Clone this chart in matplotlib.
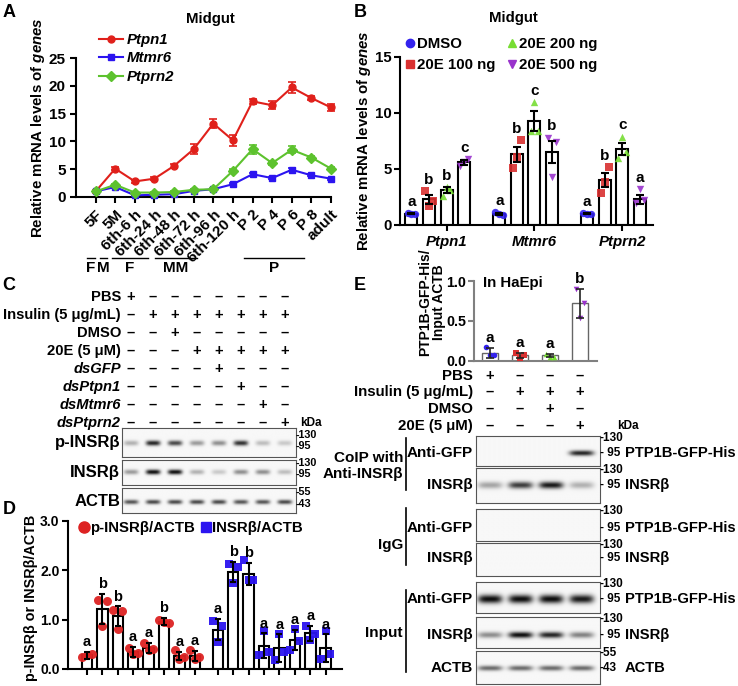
import numpy as np
import matplotlib
matplotlib.use('Agg')
import matplotlib.pyplot as plt
from matplotlib.transforms import blended_transform_factory as btf
from matplotlib.lines import Line2D

plt.rcParams['font.family'] = ['Liberation Sans', 'DejaVu Sans']
plt.rcParams['font.weight'] = 'bold'
plt.rcParams['mathtext.fontset'] = 'custom'
plt.rcParams['mathtext.rm'] = 'Liberation Sans:bold'
plt.rcParams['mathtext.it'] = 'Liberation Sans:italic:bold'
plt.rcParams['mathtext.bf'] = 'Liberation Sans:bold'
plt.rcParams['axes.linewidth'] = 1.5

# ---------------- data ----------------
# Panel A
stages_A = ["5F", "5M", "6th-6 h", "6th-24 h", "6th-48 h", "6th-72 h", "6th-96 h",
            "6th-120 h", "P 2", "P 4", "P 6", "P 8", "adult"]
ptpn1_mean = [1.0, 5.1, 2.8, 3.3, 5.6, 8.6, 13.2, 10.2, 17.2, 16.5, 19.7, 17.8, 16.1]
ptpn1_err = [0.2, 0.3, 0.3, 0.3, 0.3, 0.9, 0.8, 1.0, 0.5, 0.7, 1.0, 0.3, 0.7]
mtmr6_mean = [1.0, 1.8, 0.3, 0.4, 0.5, 1.1, 1.4, 2.3, 4.1, 3.4, 4.9, 3.9, 3.3]
mtmr6_err = [0.1, 0.2, 0.1, 0.1, 0.1, 0.1, 0.1, 0.2, 0.3, 0.2, 0.3, 0.2, 0.2]
ptprn2_mean = [1.0, 2.2, 0.8, 0.8, 0.9, 1.3, 1.4, 4.7, 8.6, 6.1, 8.5, 7.1, 5.1]
ptprn2_err = [0.1, 0.2, 0.1, 0.1, 0.1, 0.2, 0.2, 0.3, 0.8, 0.4, 0.6, 0.3, 0.3]
stage_groups = ["F", "M", "F", "MM", "P"]

# Panel B
genes_B = ["Ptpn1", "Mtmr6", "Ptprn2"]
treat_B = ["DMSO", "20E 100 ng", "20E 200 ng", "20E 500 ng"]
b_mean = [[1.0, 2.3, 3.1, 5.6],
          [1.0, 6.3, 9.3, 6.5],
          [1.0, 4.0, 6.8, 2.3]]
b_err = [[0.05, 0.4, 0.25, 0.2],
         [0.1, 0.7, 0.9, 1.0],
         [0.05, 0.65, 0.55, 0.4]]
b_pts = [[[1.05, 0.95, 1.0], [3.0, 2.1, 1.7], [2.6, 3.1, 3.4], [5.3, 5.9, 5.6]],
         [[1.15, 0.9, 1.0], [5.1, 7.6, 6.1], [8.4, 8.4, 11.0], [7.8, 7.4, 4.3]],
         [[1.05, 0.95, 1.0], [2.9, 5.2, 3.8], [6.0, 6.5, 7.9], [2.0, 2.2, 3.2]]]
b_letters = [["a", "b", "b", "c"], ["a", "b", "c", "b"], ["a", "b", "c", "a"]]

# Panel C
c_rows = ["PBS", "Insulin (5 μg/mL)", "DMSO", "20E (5 μM)", "dsGFP", "dsPtpn1",
          "dsMtmr6", "dsPtprn2"]
c_signs = ["+-------", "-+++++++", "--+-----", "---+++++", "----+---",
           "-----+--", "------+-", "-------+"]
c_blot_names = ["p-INSRβ", "INSRβ", "ACTB"]
c_pinsr = [0.30, 0.90, 0.75, 0.40, 0.45, 0.85, 0.25, 0.20]
c_insr = [0.40, 1.00, 1.00, 0.30, 0.20, 0.45, 0.45, 0.25]
c_actb = [0.70, 0.75, 0.75, 0.75, 0.75, 0.70, 0.70, 0.75]

# Panel D
d_red_mean = [0.28, 1.22, 1.07, 0.35, 0.43, 0.96, 0.27, 0.27]
d_red_sd = [0.07, 0.30, 0.20, 0.10, 0.10, 0.07, 0.08, 0.10]
d_red_pts = [[0.25, 0.30, 0.28], [1.40, 1.38, 0.87], [1.20, 1.17, 0.82],
             [0.42, 0.32, 0.30], [0.53, 0.40, 0.38], [1.00, 0.93, 0.95],
             [0.38, 0.25, 0.20], [0.38, 0.25, 0.20]]
d_red_letters = ["a", "b", "b", "a", "a", "b", "a", "a"]
d_blue_mean = [0.80, 1.97, 1.93, 0.47, 0.42, 0.59, 0.72, 0.42]
d_blue_sd = [0.22, 0.20, 0.22, 0.25, 0.28, 0.20, 0.15, 0.28]
d_blue_pts = [[0.97, 0.87, 0.55], [2.13, 2.07, 1.75], [2.20, 1.80, 1.80],
              [0.28, 0.35, 0.77], [0.18, 0.34, 0.70], [0.38, 0.57, 0.82],
              [0.87, 0.70, 0.59], [0.20, 0.30, 0.78]]
d_blue_letters = ["a", "b", "b", "a", "a", "a", "a", "a"]

# Panel E
e_mean = [0.10, 0.07, 0.07, 0.72]
e_sd = [0.06, 0.03, 0.02, 0.18]
e_pts = [[0.17, 0.07, 0.07], [0.10, 0.08, 0.04], [0.09, 0.05, 0.05], [0.90, 0.73, 0.54]]
e_letters = ["a", "a", "a", "b"]
e_rows = ["PBS", "Insulin (5 μg/mL)", "DMSO", "20E (5 μM)"]
e_signs = ["+---", "-+++", "--+-", "---+"]
e_blot_names = ["Anti-GFP", "INSRβ", "Anti-GFP", "INSRβ", "Anti-GFP", "INSRβ", "ACTB"]
e_blot_targets = ["PTP1B-GFP-His", "INSRβ", "PTP1B-GFP-His", "INSRβ",
                  "PTP1B-GFP-His", "INSRβ", "ACTB"]
e_coip_gfp = [0.0, 0.0, 0.0, 0.9]
e_coip_insr = [0.35, 0.8, 0.95, 0.3]
e_igg_gfp = [0.0, 0.0, 0.0, 0.0]
e_igg_insr = [0.0, 0.0, 0.0, 0.0]
e_in_gfp = [1.0, 1.0, 1.0, 0.95]
e_in_insr = [0.45, 1.0, 0.9, 0.5]
e_in_actb = [0.6, 0.6, 0.6, 0.6]

# ---------------- figure helpers ----------------
W, H = 738, 686
fig = plt.figure(figsize=(W / 100, H / 100), dpi=100)


def add_ax(x0, y0, x1, y1):
    return fig.add_axes([x0 / W, 1 - y1 / H, (x1 - x0) / W, (y1 - y0) / H])


def ftext(x, y, s, **kw):
    kw.setdefault('fontweight', 'bold')
    return fig.text(x / W, 1 - y / H, s, **kw)


def style_axis(ax, color='black', labelsize=10.5, pad=3.5):
    for s in ['top', 'right']:
        ax.spines[s].set_visible(False)
    for s in ['left', 'bottom']:
        ax.spines[s].set_color(color)
        ax.spines[s].set_linewidth(1.5)
    ax.tick_params(direction='out', length=4, width=1.5, color=color, labelsize=labelsize,
                   pad=pad)
    for lab in ax.get_yticklabels():
        lab.set_fontweight('bold')


def draw_blot(box, intens, band_y, band_h, band_w, xlim):
    x0, y0, x1, y1 = box
    ax = add_ax(x0, y0, x1, y1)
    xs = np.linspace(xlim[0], xlim[1], 400)
    ys = np.linspace(0, 1, 120)
    X, Y = np.meshgrid(xs, ys)
    dark = np.zeros_like(X)
    for i, v in enumerate(intens):
        dark += v * np.exp(-((X - i) / band_w) ** 4) * np.exp(-((Y - band_y) / band_h) ** 2)
    img = 0.97 - 0.92 * np.clip(dark, 0, 1)
    ax.imshow(img, cmap='gray', vmin=0, vmax=1, extent=(xlim[0], xlim[1], 1, 0),
              aspect='auto', interpolation='bilinear')
    ax.set_xlim(xlim)
    ax.set_ylim(1, 0)
    ax.set_xticks([])
    ax.set_yticks([])
    for s in ax.spines.values():
        s.set_color('#555555')
        s.set_linewidth(0.8)
    return ax


RED, BLUE, GREEN, PURPLE = '#E0201B', '#2B14F0', '#5DC22E', '#9933CC'
PRED, PBLUE, PGREEN = '#D93030', '#3322EE', '#77DD33'

# ---------------- panel letters ----------------
for lab, (x, y) in zip("ABCDE", [(9, 12.5), (360, 12.5), (9, 285), (9, 509), (360, 285)]):
    ftext(x, y, lab, fontsize=13, ha='center', va='center')

# ---------------- Panel A ----------------
axA = add_ax(76, 58, 331, 197)
xA = np.arange(len(stages_A))
for mean, err, col, mk, ms in [(ptpn1_mean, ptpn1_err, RED, 'o', 5),
                               (mtmr6_mean, mtmr6_err, BLUE, 's', 5),
                               (ptprn2_mean, ptprn2_err, GREEN, 'D', 5)]:
    axA.errorbar(xA, mean, yerr=err, color=col, marker=mk, ms=ms, lw=1.5,
                 capsize=3, capthick=1.2, elinewidth=1.2, clip_on=False, zorder=3)
axA.set_xlim(-1, 12)
axA.set_ylim(0, 25)
axA.set_yticks([0, 5, 10, 15, 20, 25])
axA.set_xticks(xA)
axA.set_xticklabels(stages_A, rotation=45, ha='right', va='top', rotation_mode='anchor',
                    fontsize=10.5, fontweight='bold')
style_axis(axA, labelsize=11)
axA.set_ylabel("Relative mRNA levels of $\\mathit{genes}$", fontsize=10.8, fontweight='bold')
axA.yaxis.set_label_coords(-29 / 255, 0.5)
ftext(210, 19, "Midgut", fontsize=10.8, ha='center', va='center')
hA = [Line2D([], [], color=RED, marker='o', ms=5, lw=1.5),
      Line2D([], [], color=BLUE, marker='s', ms=5, lw=1.5),
      Line2D([], [], color=GREEN, marker='D', ms=5, lw=1.5)]
axA.legend(hA, ["Ptpn1", "Mtmr6", "Ptprn2"], loc='upper left',
           bbox_to_anchor=(99 / W, 1 - 33 / H), bbox_transform=fig.transFigure,
           frameon=False, prop={'style': 'italic', 'weight': 'bold', 'size': 10.8},
           handlelength=1.6, handletextpad=0.25, labelspacing=0.3, borderpad=0,
           borderaxespad=0)

# stage bars under A
stage_bar_px = [(87, 95), (100, 107), (112, 148), (155, 197), (244, 304)]
for (a, b), lab in zip(stage_bar_px, stage_groups):
    fig.add_artist(Line2D([a / W, b / W], [1 - 258 / H] * 2, color='black', lw=1.0))
    ftext((a + b) / 2, 268, lab, fontsize=11, ha='center', va='center')

# ---------------- Panel B ----------------
axB = add_ax(400, 57, 653, 225)
markers_B = ['o', 's', '^', 'v']
pcols_B = [PBLUE, PRED, PGREEN, PURPLE]
jit = [-0.22, 0.22, 0.0]
for g in range(3):
    for i in range(4):
        x = g * 5 + i
        axB.bar(x, b_mean[g][i], width=0.68, facecolor='white', edgecolor='black',
                lw=1.5, zorder=2)
        axB.scatter([x + j for j in jit], b_pts[g][i], marker=markers_B[i],
                    s=28, color=pcols_B[i], zorder=3, linewidths=0, alpha=0.9)
        axB.errorbar(x, b_mean[g][i], yerr=b_err[g][i], color='black', lw=1.5,
                     capsize=3, capthick=1.5, zorder=4)
        top = max(b_mean[g][i] + b_err[g][i], max(b_pts[g][i]))
        axB.annotate(b_letters[g][i], (x, top), xytext=(0, 3), textcoords='offset points',
                     ha='center', va='bottom', fontsize=11, fontweight='bold')
axB.set_xlim(-0.65, 13.75)
axB.set_ylim(0, 15)
axB.set_yticks([0, 5, 10, 15])
axB.set_xticks([2, 7, 12])
axB.set_xticklabels(genes_B, fontsize=11, fontweight='bold', style='italic')
style_axis(axB, labelsize=10.8, pad=2)
axB.tick_params(axis='x', pad=3.5)
axB.set_ylabel("Relative mRNA levels of $\\mathit{genes}$", fontsize=10.8, fontweight='bold')
axB.yaxis.set_label_coords(-27 / 253, 0.5)
ftext(513, 18, "Midgut", fontsize=10.8, ha='center', va='center')
hB = [Line2D([], [], ls='none', marker=m, color=c, ms=6) for m, c in zip(markers_B, pcols_B)]
axB.legend(hB, treat_B, ncol=2, loc='upper left', bbox_to_anchor=(405 / W, 1 - 37 / H),
           bbox_transform=fig.transFigure, frameon=False,
           prop={'weight': 'bold', 'size': 10.8}, handlelength=0.6, handletextpad=0.2,
           columnspacing=0.8, labelspacing=0.5, borderpad=0, borderaxespad=0)

# ---------------- Panel C ----------------
c_xlim = (-0.41, 7.5)
c_boxes = [(122, 428, 296, 457), (122, 460, 296, 485), (122, 488, 296, 513)]
c_bandy = [0.52, 0.48, 0.56]
c_bandh = [0.09, 0.10, 0.09]
c_axes = []
for box, inten, by, bh in zip(c_boxes, [c_pinsr, c_insr, c_actb], c_bandy, c_bandh):
    c_axes.append(draw_blot(box, inten, by, bh, 0.33, c_xlim))
trC = btf(c_axes[0].transData, fig.transFigure)
c_row_y = [297, 315, 333, 351, 369, 387, 405, 423]
for r, (lab, signs, y) in enumerate(zip(c_rows, c_signs, c_row_y)):
    ftext(121, y, lab, fontsize=10.6, ha='right', va='center',
          style='italic' if lab.startswith('ds') else 'normal')
    for i, s in enumerate(signs):
        fig.text(i, 1 - y / H, '+' if s == '+' else '–', transform=trC, fontsize=10.5,
                 fontweight='bold', ha='center', va='center')
ftext(300, 423, "kDa", fontsize=8.5, ha='left', va='center')
for name, y in zip(c_blot_names, [443, 473, 501]):
    ftext(120, y, name, fontsize=12, ha='right', va='center')
for s, y in [("-130", 435), ("-95", 446), ("-130", 463), ("-95", 474), ("-55", 492), ("-43", 504)]:
    ftext(296, y, s, fontsize=7.8, ha='left', va='center')

# ---------------- Panel D ----------------
axD = add_ax(68, 521, 342, 669)
xr = np.arange(8)
xb = np.arange(8) + 8.5
jitD = [-0.3, 0.3, 0.0]
for xs_, means, sds, pts, lets, col, mk in [(xr, d_red_mean, d_red_sd, d_red_pts, d_red_letters, '#DD2222', 'o'),
                                           (xb, d_blue_mean, d_blue_sd, d_blue_pts, d_blue_letters, '#2B14F0', 's')]:
    axD.bar(xs_, means, width=0.68, facecolor='white', edgecolor='black', lw=1.5, zorder=2)
    for x, p in zip(xs_, pts):
        axD.scatter([x + j for j in jitD], p, marker=mk, s=42 if mk == 'o' else 36,
                    color=col, zorder=3, linewidths=0, alpha=0.95)
    axD.errorbar(xs_, means, yerr=sds, fmt='none', ecolor='black', elinewidth=1.5,
                 capsize=2.5, capthick=1.5, zorder=4)
    for x, m, s, l in zip(xs_, means, sds, lets):
        axD.annotate(l, (x, m + s), xytext=(0, 2), textcoords='offset points', ha='center',
                     va='bottom', fontsize=10.5, fontweight='bold')
axD.set_xlim(-1.23, 16.56)
axD.set_ylim(0, 3)
axD.set_yticks([0, 1, 2, 3])
axD.set_yticklabels(["0.0", "1.0", "2.0", "3.0"])
axD.set_xticks(np.concatenate([xr, xb]))
axD.set_xticklabels([])
style_axis(axD, labelsize=10, pad=2)
axD.set_ylabel("p-INSRβ or INSRβ/ACTB", fontsize=10.4, fontweight='bold')
axD.yaxis.set_label_coords(-30 / 274, 0.48)
hD = [Line2D([], [], ls='none', marker='o', color='#DD2222', ms=8),
      Line2D([], [], ls='none', marker='s', color='#2B14F0', ms=7)]
axD.legend(hD, ["p-INSRβ/ACTB", "INSRβ/ACTB"], ncol=2, loc='center left',
           bbox_to_anchor=(79 / W, 1 - 528 / H), bbox_transform=fig.transFigure,
           frameon=False, prop={'weight': 'bold', 'size': 10.8}, handlelength=0.6,
           handletextpad=0.15, columnspacing=0.4, borderpad=0, borderaxespad=0)

# ---------------- Panel E ----------------
axE = add_ax(474, 281, 597, 361)
xE = np.arange(4)
markers_E = ['o', 's', '^', 'v']
axE.bar(xE, e_mean, width=0.56, facecolor='white', edgecolor='#666666', lw=1.0, zorder=2)
for x, p, m, c in zip(xE, e_pts, markers_E, pcols_B):
    axE.scatter([x + j * 0.6 for j in jit], p, marker=m, s=16, color=c, zorder=3, linewidths=0)
axE.errorbar(xE, e_mean, yerr=e_sd, fmt='none', ecolor='#222222', elinewidth=1.2,
             capsize=3, capthick=1.2, zorder=4)
for x, m, s, l in zip(xE, e_mean, e_sd, e_letters):
    axE.annotate(l, (x, m + s), xytext=(0, 2), textcoords='offset points', ha='center',
                 va='bottom', fontsize=11, fontweight='bold')
axE.set_xlim(-0.53, 3.57)
axE.set_ylim(0, 1.0)
axE.set_yticks([0, 0.5, 1.0])
axE.set_yticklabels(["0.0", "0.5", "1.0"])
axE.set_xticks([])
style_axis(axE, color='#808080', labelsize=10.3, pad=1.5)
axE.tick_params(labelcolor='black')
axE.set_ylabel("PTP1B-GFP-His/\nInput ACTB", fontsize=10, fontweight='bold', linespacing=0.95)
axE.yaxis.set_label_coords(-28 / 123, 0.73)
axE.text(0.07, 0.98, "In HaEpi", transform=axE.transAxes, fontsize=10.8, fontweight='bold',
         ha='left', va='center')

trE = btf(axE.transData, fig.transFigure)
e_row_y = [376, 392, 409, 426]
for lab, signs, y in zip(e_rows, e_signs, e_row_y):
    ftext(473, y, lab, fontsize=10.8, ha='right', va='center')
    for i, s in enumerate(signs):
        fig.text(i, 1 - y / H, '+' if s == '+' else '–', transform=trE, fontsize=10.5,
                 fontweight='bold', ha='center', va='center')
ftext(617, 426, "kDa", fontsize=8.5, ha='left', va='center')

e_xlim = (-0.46, 3.63)
e_boxes = [(476, 436, 600, 466), (476, 468, 600, 503), (476, 509, 600, 541),
           (476, 543, 600, 576), (476, 582, 600, 613), (476, 617, 600, 648),
           (476, 651, 600, 684)]
e_bandy = [0.57, 0.49, 0.55, 0.5, 0.55, 0.58, 0.52]
e_bandh = [0.09, 0.10, 0.1, 0.1, 0.14, 0.10, 0.08]
e_ints = [e_coip_gfp, e_coip_insr, e_igg_gfp, e_igg_insr, e_in_gfp, e_in_insr, e_in_actb]
for box, inten, by, bh in zip(e_boxes, e_ints, e_bandy, e_bandh):
    draw_blot(box, inten, by, bh, 0.40, e_xlim)
e_label_y = [453, 485, 528, 558, 599, 635, 668]
e_top_marker = ["-130", "-130", "-130", "-130", "-130", "-130", "-55"]
e_bot_marker = ["- 95", "- 95", "- 95", "- 95", "- 95", "- 95", "-43"]
for (x0, y0, x1, y1), name, tgt, y, tm, bm in zip(e_boxes, e_blot_names, e_blot_targets,
                                                  e_label_y, e_top_marker, e_bot_marker):
    ftext(473, y, name, fontsize=11, ha='right', va='center')
    ftext(600, y0 + 2, tm, fontsize=8.5, ha='left', va='center')
    ftext(600, y, bm, fontsize=8.5, ha='left', va='center')
    ftext(625, y, tgt, fontsize=10.6, ha='left', va='center')

for lab, yc, (ya, yb) in [("CoIP with\nAnti-INSRβ", 466, (438, 490)),
                          ("IgG", 545, (508, 565)),
                          ("Input", 633, (590, 672))]:
    ftext(403, yc, lab, fontsize=11, ha='right', va='center', linespacing=1.1)
    fig.add_artist(Line2D([406 / W] * 2, [1 - ya / H, 1 - yb / H], color='black', lw=1.2))

fig.savefig("out.png", dpi=100)
